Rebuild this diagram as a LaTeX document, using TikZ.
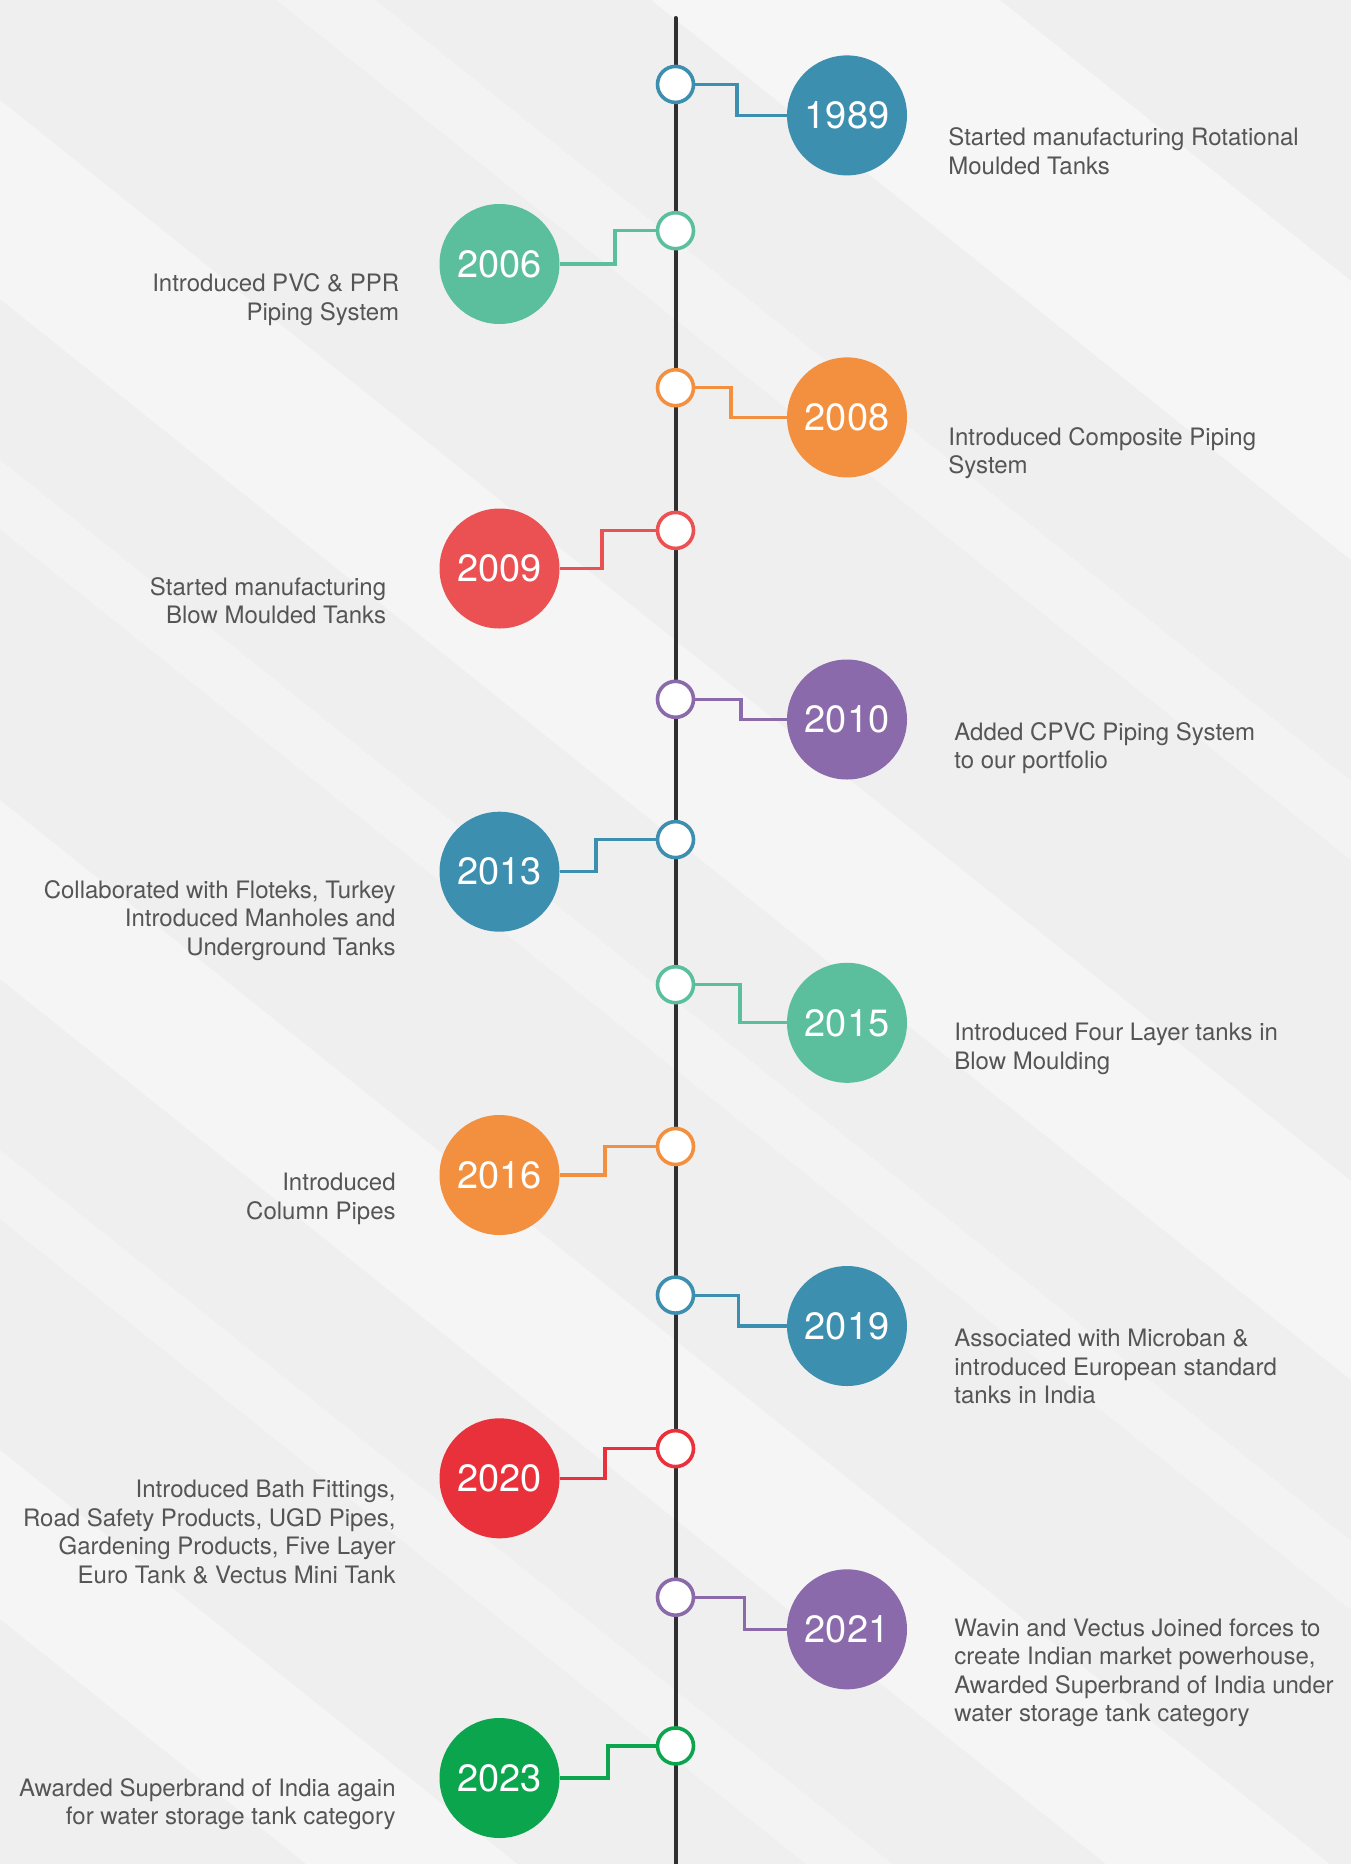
\documentclass[tikz,border=0pt]{standalone}
\usepackage{fontspec}
\setmainfont{TeX Gyre Heros}
\usetikzlibrary{positioning}
\definecolor{tealblue}{HTML}{3D8FB0}
\definecolor{mint}{HTML}{5BBF9E}
\definecolor{tangerine}{HTML}{F39040}
\definecolor{coral}{HTML}{EB5152}
\definecolor{brightred}{HTML}{E8313A}
\definecolor{lavender}{HTML}{8A6AAB}
\definecolor{leafgreen}{HTML}{0BA54E}
\definecolor{txtgray}{HTML}{555555}
\definecolor{axisgray}{HTML}{2F2F2F}
\definecolor{bggray}{HTML}{EFEFEF}
\begin{document}
\begin{tikzpicture}[x=0.5pt,y=-0.5pt,
        dot/.style={shape=circle,draw=#1,fill=white,line width=1.8pt,minimum size=18pt,inner sep=0pt},
        year/.style={shape=circle,fill=#1,text=white,minimum size=60pt,inner sep=0pt,font=\fontsize{19}{19}\selectfont},
        link/.style={draw=#1,line width=1.6pt},
        desc/.style={text=txtgray,font=\fontsize{12}{14.25}\selectfont,inner sep=0pt},
        streak/.style={fill=white,opacity=#1}]
        \useasboundingbox (0,0) rectangle (1351,1864);
        \fill[bggray] (0,0) rectangle (1351,1864);

        % background streaks
        \begin{scope}
            \clip (0,0) rectangle (1351,1864);
            \fill[streak=0.45] (0,-800) -- (1351,281) -- (1351,560) -- (0,-521) -- cycle;
            \fill[streak=0.3] (0,-300) -- (1351,781) -- (1351,860) -- (0,-221) -- cycle;
            \fill[streak=0.4] (0,100) -- (1351,1181) -- (1351,1380) -- (0,299) -- cycle;
            \fill[streak=0.3] (0,460) -- (1351,1541) -- (1351,1610) -- (0,529) -- cycle;
            \fill[streak=0.4] (0,800) -- (1351,1881) -- (1351,2060) -- (0,979) -- cycle;
            \fill[streak=0.3] (0,1150) -- (1351,2231) -- (1351,2300) -- (0,1219) -- cycle;
            \fill[streak=0.4] (0,1450) -- (1351,2531) -- (1351,2700) -- (0,1619) -- cycle;
        \end{scope}

        % time axis
        \coordinate (top) at (675.5,18);
        \coordinate (bottom) at (675.5,1864);
        \draw[axisgray, line width=2pt, line cap=round] (top) -- (bottom);

        % dots on the axis
        \node[dot=tealblue] (d1) at (675.5,84.4) {};
        \node[dot=mint] (d2) at (675.5,230.7) {};
        \node[dot=tangerine] (d3) at (675.5,387.7) {};
        \node[dot=coral] (d4) at (675.5,530.4) {};
        \node[dot=lavender] (d5) at (675.5,699.3) {};
        \node[dot=tealblue] (d6) at (675.5,839.6) {};
        \node[dot=mint] (d7) at (675.5,984.7) {};
        \node[dot=tangerine] (d8) at (675.5,1146.5) {};
        \node[dot=tealblue] (d9) at (675.5,1295.1) {};
        \node[dot=brightred] (d10) at (675.5,1448.6) {};
        \node[dot=lavender] (d11) at (675.5,1597.2) {};
        \node[dot=leafgreen] (d12) at (675.5,1745.9) {};

        % year circles
        \node[year=tealblue] (y1) at (847,115.4) {1989};
        \node[year=mint] (y2) at (499.5,264) {2006};
        \node[year=tangerine] (y3) at (847,417.4) {2008};
        \node[year=coral] (y4) at (499.5,568.5) {2009};
        \node[year=lavender] (y5) at (847,719.5) {2010};
        \node[year=tealblue] (y6) at (499.5,871.7) {2013};
        \node[year=mint] (y7) at (847,1022.8) {2015};
        \node[year=tangerine] (y8) at (499.5,1175) {2016};
        \node[year=tealblue] (y9) at (847,1326) {2019};
        \node[year=brightred] (y10) at (499.5,1478.3) {2020};
        \node[year=lavender] (y11) at (847,1629.3) {2021};
        \node[year=leafgreen] (y12) at (499.5,1778) {2023};

        % bends of the links
        \coordinate (j1) at (737,115.4);
        \coordinate (j2) at (615,264);
        \coordinate (j3) at (731,417.4);
        \coordinate (j4) at (602,568.5);
        \coordinate (j5) at (741,719.5);
        \coordinate (j6) at (596,871.7);
        \coordinate (j7) at (740,1022.8);
        \coordinate (j8) at (605,1175);
        \coordinate (j9) at (738.5,1326);
        \coordinate (j10) at (605,1478.3);
        \coordinate (j11) at (744.5,1629.3);
        \coordinate (j12) at (608,1778);

        % links
        \path [link=tealblue] (d1.east) -| (j1) -- (y1.west);
        \path [link=mint] (d2.west) -| (j2) -- (y2.east);
        \path [link=tangerine] (d3.east) -| (j3) -- (y3.west);
        \path [link=coral] (d4.west) -| (j4) -- (y4.east);
        \path [link=lavender] (d5.east) -| (j5) -- (y5.west);
        \path [link=tealblue] (d6.west) -| (j6) -- (y6.east);
        \path [link=mint] (d7.east) -| (j7) -- (y7.west);
        \path [link=tangerine] (d8.west) -| (j8) -- (y8.east);
        \path [link=tealblue] (d9.east) -| (j9) -- (y9.west);
        \path [link=brightred] (d10.west) -| (j10) -- (y10.east);
        \path [link=lavender] (d11.east) -| (j11) -- (y11.west);
        \path [link=leafgreen] (d12.west) -| (j12) -- (y12.east);

        % descriptions
        \node[desc, anchor=west, align=left] (t1) at (948,151) {Started manufacturing Rotational\\Moulded Tanks};
        \node[desc, anchor=east, align=right] (t2) at (399.6,299.7) {Introduced PVC \& PPR\\Piping System};
        \node[desc, anchor=west, align=left] (t3) at (948,453) {Introduced Composite Piping\\System};
        \node[desc, anchor=east, align=right] (t4) at (386.5,600.6) {Started manufacturing\\Blow Moulded Tanks};
        \node[desc, anchor=west, align=left] (t5) at (954,748) {Added CPVC Piping System\\to our portfolio};
        \node[desc, anchor=east, align=right] (t6) at (396,920.5) {Collaborated with Floteks, Turkey\\Introduced Manholes and\\Underground Tanks};
        \node[desc, anchor=west, align=left] (t7) at (954,1049) {Introduced Four Layer tanks in\\Blow Moulding};
        \node[desc, anchor=east, align=right] (t8) at (396,1198.8) {Introduced\\Column Pipes};
        \node[desc, anchor=west, align=left] (t9) at (954,1366.5) {Associated with Microban \&\\introduced European standard\\tanks in India};
        \node[desc, anchor=east, align=right] (t10) at (396,1531.8) {Introduced Bath Fittings,\\Road Safety Products, UGD Pipes,\\Gardening Products, Five Layer\\Euro Tank \& Vectus Mini Tank};
        \node[desc, anchor=west, align=left] (t11) at (954,1673) {Wavin and Vectus Joined forces to\\create Indian market powerhouse,\\Awarded Superbrand of India under\\water storage tank category};
        \node[desc, anchor=east, align=right] (t12) at (396,1804) {Awarded Superbrand of India again\\for water storage tank category};
    \end{tikzpicture}
\end{document}
